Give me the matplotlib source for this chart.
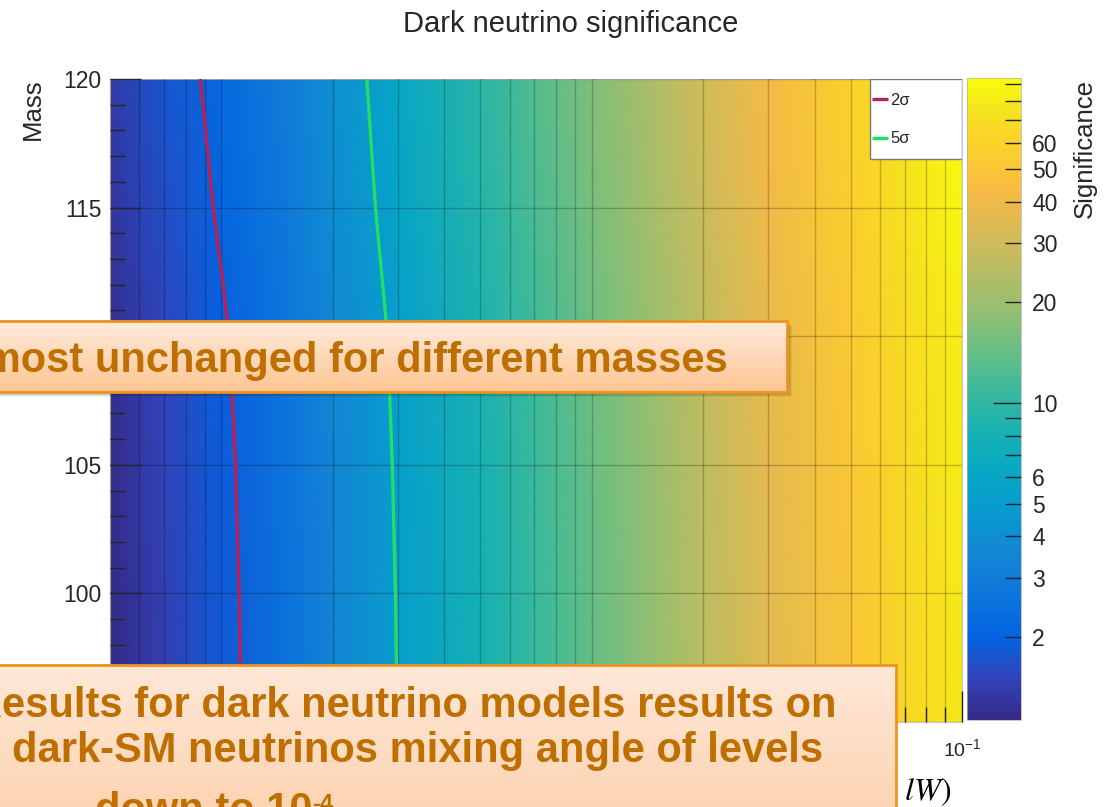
import numpy as np
import matplotlib
matplotlib.use("Agg")
import matplotlib.pyplot as plt
from matplotlib.colors import LinearSegmentedColormap, LogNorm
from matplotlib.patches import Rectangle
from matplotlib.ticker import FixedLocator, FuncFormatter, NullFormatter, LogLocator

plt.rcParams['font.family'] = ['Liberation Sans', 'DejaVu Sans']

# ---- data -------------------------------------------------------------
mixing_angle = [5e-4, 7e-4, 1e-3, 1.5e-3, 2e-3, 3e-3, 5e-3, 7e-3,
                1e-2, 1.5e-2, 2e-2, 3e-2, 5e-2, 7e-2, 1e-1]
mass = [95, 100, 105, 110, 115, 120]

sig_m95 = [1.13, 1.45, 1.82, 2.50, 3.40, 5.03, 7.90, 10.5, 14.0, 19.5, 25.0, 35.0, 50.0, 63.0, 78.0]
sig_m100 = [1.14, 1.46, 1.84, 2.53, 3.43, 5.08, 7.98, 10.6, 14.1, 19.7, 25.3, 35.4, 50.5, 63.6, 78.8]
sig_m105 = [1.16, 1.49, 1.87, 2.58, 3.50, 5.18, 8.14, 10.8, 14.4, 20.1, 25.8, 36.1, 51.5, 64.9, 80.3]
sig_m110 = [1.20, 1.54, 1.93, 2.65, 3.60, 5.33, 8.37, 11.1, 14.8, 20.7, 26.5, 37.1, 53.0, 66.8, 82.7]
sig_m115 = [1.29, 1.65, 2.07, 2.85, 3.88, 5.73, 9.01, 12.0, 16.0, 22.2, 28.5, 39.9, 57.0, 71.8, 88.9]
sig_m120 = [1.36, 1.74, 2.18, 3.00, 4.08, 6.04, 9.48, 12.6, 16.8, 23.4, 30.0, 42.0, 60.0, 75.6, 93.6]

contour_levels = [2, 5]
contour_labels = ['2\u03c3', '5\u03c3']

cbar_major = [10]
cbar_minor = [2, 3, 4, 5, 6, 7, 8, 9, 20, 30, 40, 50, 60, 70, 80, 90]
cbar_labelled = [2, 3, 4, 5, 6, 10, 20, 30, 40, 50, 60]

# ---- parula-like colormap ----------------------------------------------
parula_pts = [
    (0.2081, 0.1663, 0.5292), (0.1959, 0.2645, 0.7279), (0.0117, 0.3875, 0.8820),
    (0.0498, 0.4586, 0.8641), (0.0793, 0.5200, 0.8312), (0.0343, 0.5966, 0.8199),
    (0.0228, 0.6535, 0.7768), (0.0843, 0.6928, 0.7062), (0.2178, 0.7250, 0.6193),
    (0.3953, 0.7459, 0.5244), (0.5709, 0.7485, 0.4494), (0.7184, 0.7411, 0.3905),
    (0.8507, 0.7299, 0.3360), (0.9739, 0.7314, 0.2666), (0.9880, 0.8066, 0.1794),
    (0.9589, 0.8949, 0.1132), (0.9763, 0.9831, 0.0538)]
parula_pos = [0, 4, 8, 12, 16, 20, 24, 28, 32, 36, 40, 44, 48, 52, 56, 60, 63]
parula = LinearSegmentedColormap.from_list(
    'parula', [(p / 63.0, c) for p, c in zip(parula_pos, parula_pts)], N=256)

# ---- figure ------------------------------------------------------------
W, H = 1109, 807
fig = plt.figure(figsize=(W / 100, H / 100), dpi=100)
fig.patch.set_facecolor('white')
ink = '#262626'

ax = fig.add_axes([110 / W, 1 - 722 / H, 852 / W, 643 / H])
X, Y = np.meshgrid(mixing_angle, mass)
Z = np.array([sig_m95, sig_m100, sig_m105, sig_m110, sig_m115, sig_m120])
norm = LogNorm(vmin=Z.min(), vmax=Z.max())
mesh = ax.pcolormesh(X, Y, Z, cmap=parula, norm=norm, shading='gouraud', zorder=1)
cs = ax.contour(X, Y, Z, levels=contour_levels, colors=['#B8205A', '#22DD66'],
                linewidths=2.4, zorder=4)

ax.set_xscale('log')
ax.set_xlim(5e-4, 1e-1)
ax.set_ylim(95, 120)
ax.set_axisbelow(False)

ax.xaxis.set_major_locator(LogLocator(base=10, numticks=10))
ax.xaxis.set_minor_locator(LogLocator(base=10, subs=np.arange(2, 10), numticks=20))
ax.xaxis.set_minor_formatter(NullFormatter())
ax.yaxis.set_major_locator(FixedLocator(np.arange(95, 121, 5)))
ax.yaxis.set_minor_locator(FixedLocator(np.arange(95, 121, 1)))

ax.grid(which='major', axis='both', color='black', alpha=0.22, linewidth=1.0, zorder=3)
ax.grid(which='minor', axis='x', color='black', alpha=0.22, linewidth=1.0, zorder=3)

ax.tick_params(which='both', direction='in', color=ink, width=1.0,
               labelcolor=ink, labelsize=16.5)
ax.tick_params(which='major', length=22)
ax.tick_params(which='minor', length=11)
ax.tick_params(axis='y', pad=6)
ax.tick_params(axis='x', pad=12, labelsize=14)
for sp in ax.spines.values():
    sp.set_color('#c8c8c8')
    sp.set_linewidth(0.8)

# legend: white frame in the upper-right corner with the two contour keys
ax.add_patch(Rectangle((0.892, 0.8756), 0.108, 0.1244, transform=ax.transAxes,
                       facecolor='white', edgecolor='#7a7a7a', linewidth=1.0,
                       zorder=5))
handles, _ = cs.legend_elements()
leg = ax.legend(handles, contour_labels, loc='upper left',
                bbox_to_anchor=(0.8944, 0.9782), frameon=False,
                fontsize=12, handlelength=0.96, handletextpad=0.15,
                labelspacing=1.4, borderpad=0, borderaxespad=0)
leg.set_zorder(6)
for t in leg.get_texts():
    t.set_color(ink)

# ---- colour bar --------------------------------------------------------
cax = fig.add_axes([967 / W, 1 - 720 / H, 54 / W, 642 / H])
cb = fig.colorbar(mesh, cax=cax)
cb.outline.set_linewidth(0.5)
cb.outline.set_edgecolor('#b0b0b0')
cax.yaxis.set_major_locator(FixedLocator(cbar_major))
cax.yaxis.set_minor_locator(FixedLocator(cbar_minor))
lab_fmt = FuncFormatter(lambda v, pos: f'{v:g}' if round(v) in cbar_labelled else '')
cax.yaxis.set_major_formatter(lab_fmt)
cax.yaxis.set_minor_formatter(lab_fmt)
cax.tick_params(which='both', direction='in', right=True, left=False,
                labelright=True, labelleft=False, color=ink, width=1.0,
                labelcolor=ink, labelsize=16.5, pad=8)
cax.tick_params(which='major', length=20)
cax.tick_params(which='minor', length=11.5)

# ---- labels ------------------------------------------------------------
fig.text(571 / W, 1 - 32 / H, 'Dark neutrino significance', ha='center',
         va='baseline', fontsize=21, color=ink)
fig.text(33 / W, 1 - 109 / H, 'Mass', rotation=90, ha='center', va='center',
         fontsize=18.5, color=ink)
fig.text(1085 / W, 1 - 148 / H, 'Significance', rotation=90, ha='center',
         va='center', fontsize=18.5, color=ink)
fig.text(952 / W, 1 - 800 / H, r'$\mathrm{Mixing\ angle}\ \theta(\nu_{D},\ lW)$',
         ha='right', va='baseline', fontsize=23, color='black',
         math_fontfamily='stix')

# ---- callout boxes -----------------------------------------------------
ov = fig.add_axes([0, 0, 1, 1], zorder=10)
ov.set_xlim(0, W)
ov.set_ylim(H, 0)
ov.axis('off')
ov.patch.set_alpha(0)


def callout(x0, x1, y0, y1, top, bottom, shadow=True):
    top = np.array(matplotlib.colors.to_rgb(top))
    bottom = np.array(matplotlib.colors.to_rgb(bottom))
    t = np.linspace(0, 1, 128)[:, None, None]
    grad = top * (1 - t) + bottom * t
    grad = np.repeat(grad, 2, axis=1)
    if shadow:
        for k, a in [(5, 0.05), (4, 0.07), (3, 0.08)]:
            ov.add_patch(Rectangle((x0 + k, y0 + k), x1 - x0, y1 - y0,
                                   facecolor='black', edgecolor='none', alpha=a))
    ov.imshow(grad, extent=(x0, x1, y1, y0), aspect='auto',
              interpolation='bilinear', zorder=2)
    ov.add_patch(Rectangle((x0, y0), x1 - x0, y1 - y0, fill=False,
                           edgecolor='#F0921E', linewidth=2.0, zorder=3))


text_col = '#BF6F00'
callout(-20, 787, 321, 392, '#FFEBDD', '#FEC593')
ov.text(728, 372, 'Almost unchanged for different masses', ha='right',
        va='baseline', fontsize=30, fontweight='bold', color=text_col, zorder=4)

callout(-20, 896, 665, 860, '#FFE8D8', '#FCCDA6', shadow=False)
ov.text(837, 717, 'Results for dark neutrino models results on', ha='right',
        va='baseline', fontsize=30, fontweight='bold', color=text_col, zorder=4)
ov.text(823, 762, 'dark-SM neutrinos mixing angle of levels', ha='right',
        va='baseline', fontsize=30, fontweight='bold', color=text_col, zorder=4)
t3 = ov.text(95, 822, 'down to 10', ha='left', va='baseline', fontsize=30,
             fontweight='bold', color=text_col, zorder=4)
ov.annotate('-4', xy=(1.0, 0.95), xycoords=t3, ha='left', va='top',
            fontsize=17, fontweight='bold', color=text_col, zorder=4)

ov.set_xlim(0, W)
ov.set_ylim(H, 0)

fig.savefig('out.png', dpi=100)
